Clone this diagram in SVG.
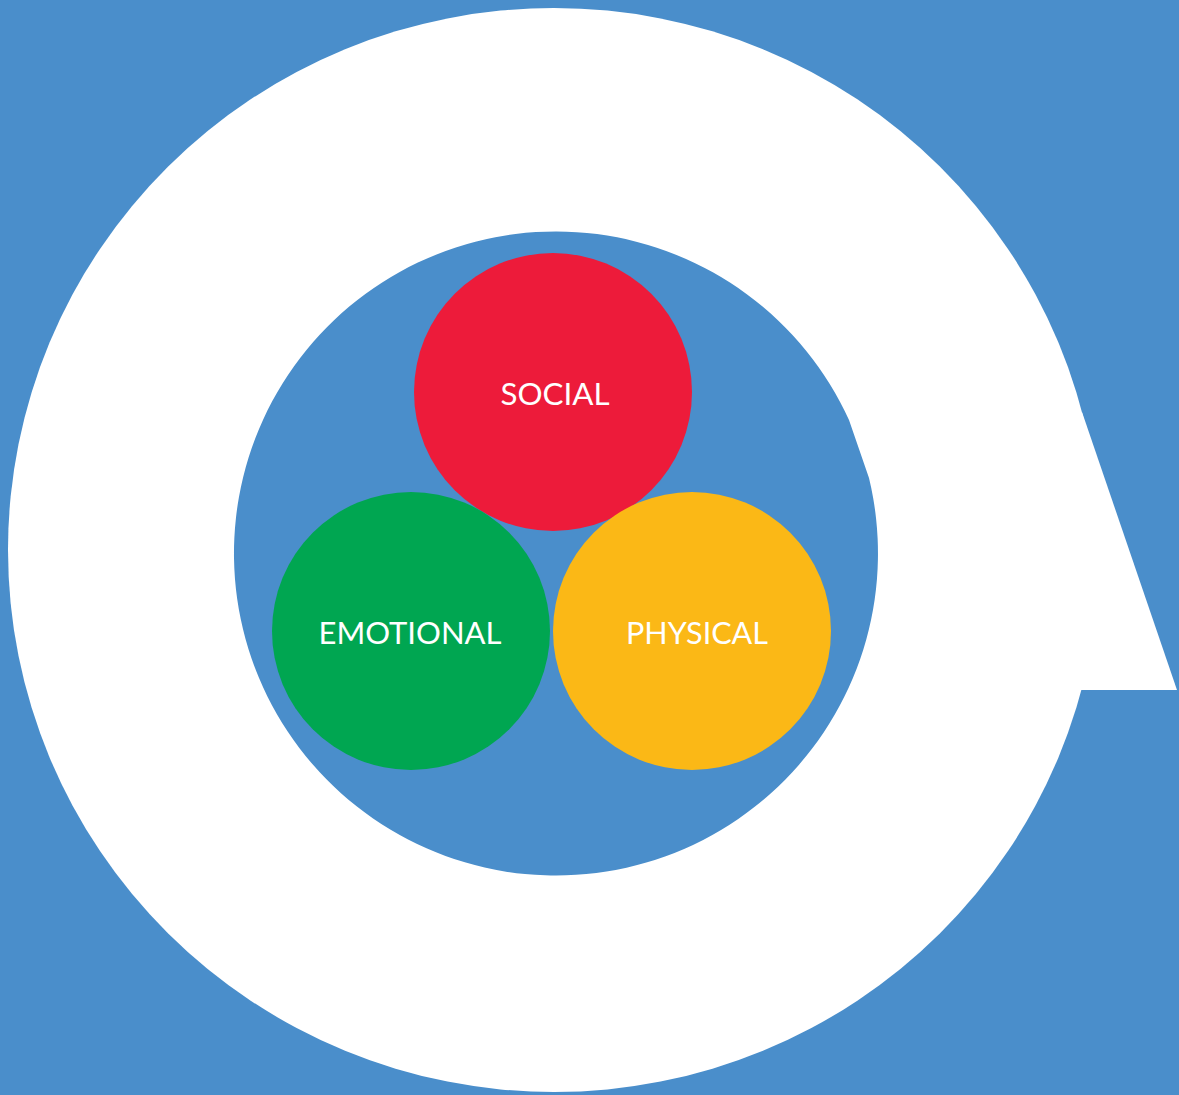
<svg xmlns="http://www.w3.org/2000/svg" width="1179" height="1095" viewBox="0 0 1179 1095">
  <style>
    .lbl { font-family: Lato, "Noto Sans", "Liberation Sans", sans-serif; font-size: 30px; fill: #ffffff; text-anchor: middle; }
  </style>
  <rect x="0" y="0" width="1179" height="1095" fill="#4A8ECB"/>
  <g id="outer-ring">
    <ellipse cx="554" cy="550" rx="546" ry="542" fill="#ffffff"/>
    <polygon points="1082,412 1177,690 1080,690" fill="#ffffff"/>
    <path d="M 849,420 L 869,478 A 322 322 0 1 1 849,420 Z" fill="#4A8ECB"/>
  </g>
  <g id="social">
    <circle cx="553" cy="392" r="139" fill="#ED1B3A"/>
    <text class="lbl" x="555" y="405" textLength="109" lengthAdjust="spacingAndGlyphs">SOCIAL</text>
  </g>
  <g id="emotional">
    <circle cx="411" cy="631" r="139" fill="#00A651"/>
    <text class="lbl" x="410" y="644" textLength="183" lengthAdjust="spacingAndGlyphs">EMOTIONAL</text>
  </g>
  <g id="physical">
    <circle cx="692" cy="631" r="139" fill="#FBB816"/>
    <text class="lbl" x="697" y="644" textLength="142" lengthAdjust="spacingAndGlyphs">PHYSICAL</text>
  </g>
  <g id="connectors"></g>
</svg>
